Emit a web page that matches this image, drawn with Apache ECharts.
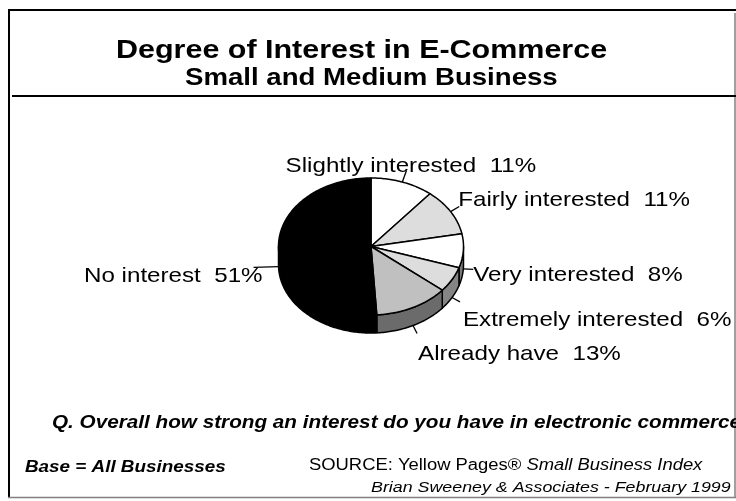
<!DOCTYPE html>
<html>
<head>
<meta charset="utf-8">
<script src="https://cdn.jsdelivr.net/npm/echarts/dist/echarts.min.js"></script>
<style>
  html, body { margin: 0; padding: 0; background: #ffffff; }
  #chart { width: 736px; height: 501px; }
</style>
</head>
<body>
<div id="chart"></div>
<script>
// Survey answers, in clockwise order starting from 12 o'clock
const categories = ['Slightly interested', 'Fairly interested', 'Very interested',
                    'Extremely interested', 'Already have', 'No interest'];
const shares = [11, 11, 8, 6, 13, 51];

// Face colours of each slice (top face, extruded side face)
const topColors  = ['#ffffff', '#dddddd', '#ffffff', '#dddddd', '#c0c0c0', '#000000'];
const sideColors = ['#8c8c8c', '#8c8c8c', '#7a7a7a', '#858585', '#6b6b6b', '#000000'];

// Leader line length and label offset from the leader's outer end [dx, dy, align]
const leaderLength = [12, 10, 10, 9, 9, 25];
const labelOffsets = [[4.5, -4.7, 'center'], [-1, -6.5, 'left'], [0, 5.5, 'left'],
                      [3, 18, 'left'], [1, 20.5, 'left'], [9, 9, 'right']];

// Tilted pie geometry: ellipse centre, radii and extrusion depth
const pie = { cx: 371, cy: 246.5, rx: 92.5, ry: 68.5, depth: 18 };

// All text is drawn slightly widened
const SX = 1.15;
const FONT = "'Liberation Sans', Arial, Helvetica, sans-serif";

function renderSlice(params, api) {
  const i = params.dataIndex;
  const total = shares.reduce((a, b) => a + b, 0);
  let before = 0;
  for (let k = 0; k < i; k++) before += shares[k];
  const value = api.value(0);
  const a0 = before / total * 2 * Math.PI;
  const a1 = (before + value) / total * 2 * Math.PI;

  const pt = (t, dz) => [pie.cx + pie.rx * Math.sin(t), pie.cy - pie.ry * Math.cos(t) + (dz || 0)];
  const arc = (s, e, dz) => {
    const n = Math.max(2, Math.ceil((e - s) / (Math.PI / 180)));
    const out = [];
    for (let j = 0; j <= n; j++) out.push(pt(s + (e - s) * j / n, dz));
    return out;
  };

  const children = [];
  // extruded side, only on the front half of the rim
  const f0 = Math.max(a0, Math.PI / 2);
  const f1 = Math.min(a1, Math.PI * 1.5);
  if (f1 > f0) {
    const pts = arc(f0, f1, 0).concat(arc(f0, f1, pie.depth).reverse());
    children.push({
      type: 'polygon',
      shape: { points: pts },
      style: { fill: sideColors[i], stroke: '#000', lineWidth: 1.5, lineJoin: 'round' }
    });
  }
  // top face
  children.push({
    type: 'polygon',
    shape: { points: [[pie.cx, pie.cy]].concat(arc(a0, a1, 0)) },
    style: { fill: topColors[i], stroke: '#000', lineWidth: 1.5, lineJoin: 'round' }
  });

  // leader line and label
  const mid = (a0 + a1) / 2;
  const front = Math.cos(mid) < 0;
  const s = pt(mid, front ? pie.depth : 0);
  const e = [s[0] + Math.sin(mid) * leaderLength[i], s[1] - Math.cos(mid) * leaderLength[i]];
  children.push({
    type: 'line',
    shape: { x1: s[0], y1: s[1], x2: e[0], y2: e[1] },
    style: { stroke: '#000', lineWidth: 1.3 }
  });
  const off = labelOffsets[i];
  children.push({
    type: 'text',
    x: e[0] + off[0],
    y: e[1] + off[1],
    scaleX: SX,
    style: {
      text: categories[i] + '  ' + value + '%',
      font: '21px ' + FONT,
      fill: '#000',
      align: off[2],
      verticalAlign: 'middle'
    }
  });
  return { type: 'group', children: children };
}

function textEl(x, y, text, font, extra) {
  return {
    type: 'text', x: x, y: y, scaleX: SX, silent: true,
    style: Object.assign({
      text: text, font: font + ' ' + FONT, fill: '#000',
      align: 'left', verticalAlign: 'middle',
      textAlign: 'left', textVerticalAlign: 'middle'
    }, extra || {})
  };
}

function lineEl(x1, y1, x2, y2, color, width) {
  return { type: 'line', silent: true, shape: { x1, y1, x2, y2 },
           style: { stroke: color, lineWidth: width } };
}

const chart = echarts.init(document.getElementById('chart'), null, { renderer: 'canvas' });
chart.setOption({
  backgroundColor: '#ffffff',
  animation: false,
  graphic: [
    // frame and title rule
    lineEl(8, 10, 736, 10, '#000', 2),
    lineEl(9, 9, 9, 498, '#000', 2),
    lineEl(735, 13, 735, 498, '#808080', 1.5),
    lineEl(8, 497.5, 736, 497.5, '#808080', 1.5),
    lineEl(12, 96, 736, 96, '#000', 2),
    // headings
    textEl(116, 50.2, 'Degree of Interest in E-Commerce', 'bold 26.5px'),
    textEl(185, 78.5, 'Small and Medium Business', 'bold 24px'),
    // footer
    textEl(52, 423, 'Q. Overall how strong an interest do you have in electronic commerce?', 'italic bold 18px'),
    textEl(25, 467, 'Base = All Businesses', 'italic bold 16.4px'),
    textEl(309, 466, '{n|SOURCE: Yellow Pages® }{i|Small Business Index}', '16px', {
      rich: {
        n: { font: '16px ' + FONT, fill: '#000' },
        i: { font: 'italic 16px ' + FONT, fill: '#000' }
      }
    }),
    textEl(371, 488, 'Brian Sweeney & Associates - February 1999', 'italic 15.5px')
  ],
  series: [{
    type: 'custom',
    coordinateSystem: 'none',
    silent: true,
    data: shares,
    renderItem: renderSlice
  }]
});
</script>
</body>
</html>
